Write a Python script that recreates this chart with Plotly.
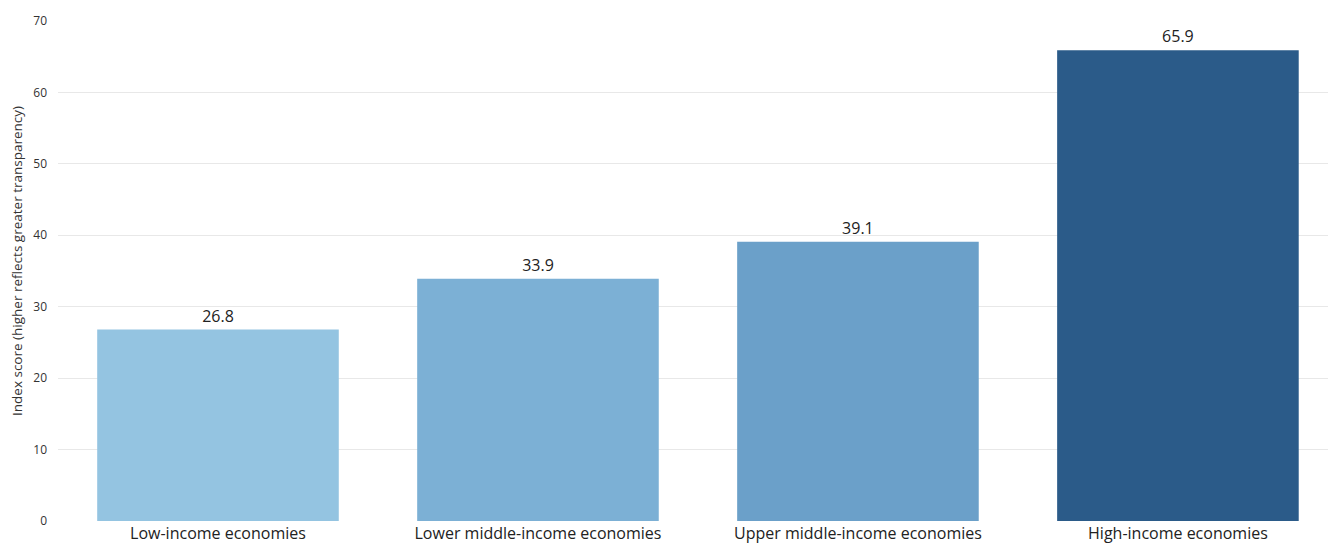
import plotly.graph_objects as go

categories = ["Low-income economies", "Lower middle-income economies",
              "Upper middle-income economies", "High-income economies"]
values = [26.8, 33.9, 39.1, 65.9]
bar_colors = ["#94C4E1", "#7CB0D5", "#6BA0C9", "#2B5B89"]
y_ticks = [0, 10, 20, 30, 40, 50, 60, 70]

fig = go.Figure(go.Bar(
    x=categories, y=values,
    marker=dict(color=bar_colors, line=dict(width=0)),
    text=[f"{v:.1f}" for v in values],
    textposition="outside",
    textfont=dict(family="Open Sans", size=16, color="#222222"),
    cliponaxis=False,
))

fig.update_layout(
    width=1328, height=544,
    margin=dict(l=58, r=0, t=21, b=23),
    paper_bgcolor="white", plot_bgcolor="white",
    bargap=0.245,
    showlegend=False,
    font=dict(family="Open Sans", color="#333333"),
    xaxis=dict(range=[-0.5, 3.469], showgrid=False, showline=False,
               ticks="", ticklabelstandoff=1,
               tickfont=dict(size=16, color="#222222"),
               automargin=False),
    yaxis=dict(range=[0, 70], tickvals=y_ticks, showgrid=True,
               gridcolor="#E8E8E8", gridwidth=1, zeroline=False,
               showline=False, ticks="", ticklabelstandoff=10,
               tickfont=dict(size=12, color="#333333"), automargin=False),
    annotations=[dict(
        text="Index score (higher reflects greater transparency)",
        xref="paper", yref="paper", x=(17 - 58) / 1270, y=0.52,
        xanchor="center", yanchor="middle", textangle=-90, showarrow=False,
        font=dict(size=13.5, color="#333333", family="Open Sans"),
    )],
)

fig.write_html("out.html")
